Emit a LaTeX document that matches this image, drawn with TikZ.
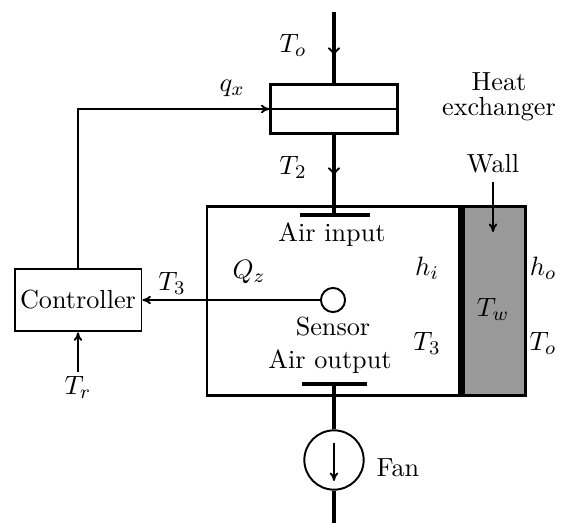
\documentclass[tikz,border=0pt]{standalone}
\usetikzlibrary{arrows.meta}
\begin{document}
\begin{tikzpicture}[x=0.0145cm, y=-0.0145cm, >={To[length=3.5pt,width=3.5pt]},
    every node/.style={font=\fontsize{10.8pt}{13pt}\selectfont},
    pipe/.style={line width=1.6pt},
    flow/.style={line width=0.8pt, -{To[length=4pt,width=5pt]}},
    frame/.style={draw, line width=1.2pt, inner sep=0pt},
    sig/.style={line width=0.8pt}]

    \useasboundingbox (0,0) rectangle (567,523);

    % Blocks
    \node[frame, minimum width=1.83cm, minimum height=0.70cm] (exch) at (334,109) {};
    \node[frame, minimum width=3.71cm, minimum height=2.73cm] (room) at (335,301) {};
    \node[frame, fill=black!40, minimum width=0.90cm, minimum height=2.73cm] (wall) at (494,301) {};
    \node[draw, sig, inner sep=1pt, minimum width=1.84cm, minimum height=0.91cm] (ctrl) at (78,300) {Controller};
    \node[draw, sig, circle, minimum size=0.35cm, inner sep=0pt] (sensor) at (333,300) {};
    \node[draw, sig, circle, minimum size=0.86cm, inner sep=0pt] (fan) at (334,460) {};

    % Points on the pipe
    \coordinate (top) at (334,12);
    \coordinate (in1) at (334,57);
    \coordinate (in2) at (334,177);
    \coordinate (ain) at (334,215);
    \coordinate (aout) at (334,384);
    \coordinate (bot) at (334,523);
    \coordinate (corner) at (78,109);
    \coordinate (ref) at (78,372);

    % Pipe
    \draw[pipe] (top) -- (exch.north);
    \draw[flow] (top) -- (in1);
    \draw[pipe] (exch.south) -- (ain);
    \draw[flow] (exch.south) -- (in2);
    \draw[pipe] (ain -| 300,0) -- (ain -| 370,0);
    \draw[pipe] (aout -| 302,0) -- (aout -| 367,0);
    \draw[pipe] (aout) -- (fan.north);
    \draw[pipe] (fan.south) -- (bot);
    \draw[sig, ->] (334,443) -- (334,481);
    \draw[line width=1.2pt] (exch.west) -- (exch.east);
    \draw[line width=2.6pt] (wall.north west) -- (wall.south west);

    % Signals
    \draw[sig, ->] (ctrl.north) -- (corner) -- (exch.west);
    \draw[sig, ->] (sensor.west) -- (ctrl.east);
    \draw[sig, ->] (ref) -- (ctrl.south);

    % Labels
    \node (lTo) at (293,45) {$T_o$};
    \node (lqx) at (232,88) {$q_x$};
    \node (lT2) at (293,167) {$T_2$};
    \node[align=center] (lhx) at (499,97) {Heat\\[-2.5pt]exchanger};
    \node (lwall) at (493,164) {Wall};
    \draw[sig, ->] (lwall.south) -- (493,232);
    \node (lain) at (332,235) {Air input};
    \node (laout) at (330,362) {Air output};
    \node (lsens) at (333,327) {Sensor};
    \node (lQz) at (249,272) {$Q_z$};
    \node (lT3a) at (172,283) {$T_3$};
    \node (lhi) at (427,268) {$h_i$};
    \node (lT3b) at (427,343) {$T_3$};
    \node (lTw) at (493,309) {$T_w$};
    \node (lho) at (543,268) {$h_o$};
    \node (lTo2) at (543,343) {$T_o$};
    \node (lTr) at (78,387) {$T_r$};
    \node (lfan) at (398,468) {Fan};

\end{tikzpicture}
\end{document}
